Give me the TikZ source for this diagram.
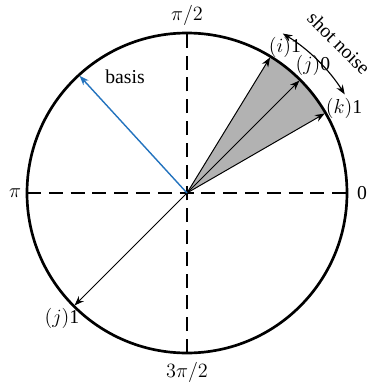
\documentclass[tikz,border=0pt]{standalone}
\usepackage{fontspec}
\setmainfont{Liberation Serif}
\usepackage{amsmath}
\usetikzlibrary{positioning,arrows.meta}
\definecolor{basisblue}{RGB}{35,115,190}

\begin{document}
\begin{tikzpicture}[x=0.025cm,y=0.025cm,>={Stealth[length=2.4mm,width=1.8mm]},
  font=\fontsize{14}{16}\selectfont,
  axis/.style={line width=1.9pt,dash pattern=on 10pt off 5.5pt},
  vec/.style={->,line width=0.7pt}]
\useasboundingbox (-187,-191) rectangle (186,193);
% points on the unit circle
\coordinate (O) at (0,0);
\coordinate (ci) at (58.5:159);
\coordinate (cj) at (45:159);
\coordinate (ck) at (30:159);
\coordinate (cm) at (225:159);
\coordinate (cb) at (132.5:159);
\coordinate (e0) at (0:160);
\coordinate (e1) at (90:160);
\coordinate (e2) at (180:160);
\coordinate (e3) at (270:160);
\fill[gray!60] (O) -- (ci) arc[start angle=58.5,end angle=30,radius=159] -- cycle;
\draw[axis] (e2) -- (e0);
\draw[axis] (e3) -- (e1);
\draw[line width=1.9pt] (O) circle[radius=160];
\draw[vec] (O) -- (ci);
\draw[vec] (O) -- (cj);
\draw[vec] (O) -- (ck);
\draw[vec] (O) -- (cm);
\draw[vec,basisblue,line width=1pt] (O) -- (cb);
% labels
\node (l0) at (175,0) {0};
\node (l1) at (0,178) {$\pi/2$};
\node (l2) at (-172,0) {$\pi$};
\node (l3) at (0,-179) {$3\pi/2$};
\node (lb) at (-62,116) {basis};
\node (li) at (98,146) {$(i)$1};
\node (lj) at (126,128) {$(j)$0};
\node (lk) at (157,85) {$(k)$1};
\node (lm) at (-125,-125) {$(j)$1};
\node[rotate=-45,inner sep=1pt] (sn) at (152,150) {shot noise};
\draw[<->,line width=0.8pt] (59:186) arc[start angle=59,end angle=32,radius=186];
\end{tikzpicture}
\end{document}
